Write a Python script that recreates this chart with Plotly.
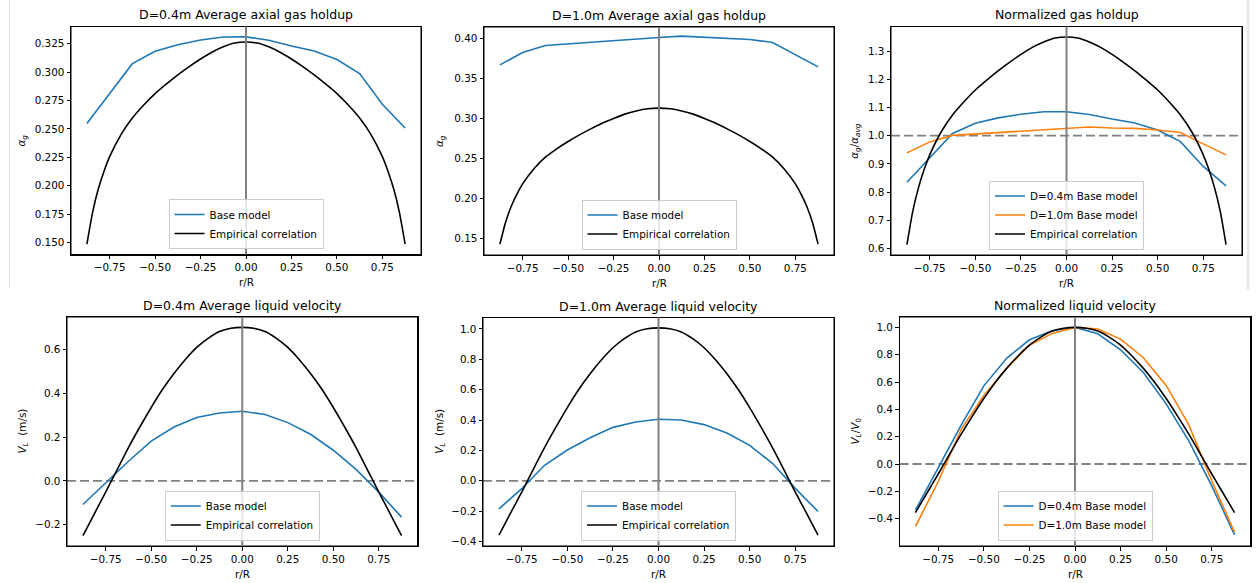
import plotly.graph_objects as go

W, H = 1258, 583
FONT = "DejaVu Sans"
BLUE = "#1f77b4"
ORANGE = "#ff7f0e"
BLACK = "#000000"
GRAY = "#808080"

# ---------------- data ----------------
r_base = [-0.875, -0.75, -0.625, -0.5, -0.375, -0.25, -0.125, 0.0,
          0.125, 0.25, 0.375, 0.5, 0.625, 0.75, 0.875]

r_emp = [-0.875, -0.84375, -0.8125, -0.78125, -0.75, -0.6875, -0.625, -0.5625,
         -0.5, -0.4375, -0.375, -0.3125, -0.25, -0.1875, -0.125, -0.0625, 0.0,
         0.0625, 0.125, 0.1875, 0.25, 0.3125, 0.375, 0.4375, 0.5, 0.5625,
         0.625, 0.6875, 0.75, 0.78125, 0.8125, 0.84375, 0.875]

# D=0.4m gas holdup
gas04_base = [0.2547, 0.2810, 0.3074, 0.3183, 0.3241, 0.3282, 0.3309, 0.3310,
              0.3280, 0.3230, 0.3186, 0.3110, 0.2986, 0.2717, 0.2508]
gas04_emp = [0.1485, 0.1765, 0.1970, 0.2125, 0.2255, 0.2450, 0.2595, 0.2710,
             0.2810, 0.2895, 0.2975, 0.3048, 0.3115, 0.3175, 0.3222, 0.3255, 0.3265,
             0.3255, 0.3222, 0.3175, 0.3115, 0.3048, 0.2975, 0.2895, 0.2810, 0.2710,
             0.2595, 0.2450, 0.2255, 0.2125, 0.1970, 0.1765, 0.1485]

# D=1.0m gas holdup
gas10_base = [0.3673, 0.3828, 0.3916, 0.3937, 0.3962, 0.3983, 0.4004, 0.4017,
              0.4033, 0.4020, 0.4013, 0.3992, 0.3954, 0.3800, 0.3648]
gas10_emp = [0.1425, 0.1700, 0.1900, 0.2052, 0.2180, 0.2370, 0.2515, 0.2620,
             0.2712, 0.2795, 0.2870, 0.2940, 0.3000, 0.3055, 0.3095, 0.3122, 0.3130,
             0.3122, 0.3095, 0.3055, 0.3000, 0.2940, 0.2870, 0.2795, 0.2712, 0.2620,
             0.2515, 0.2370, 0.2180, 0.2052, 0.1900, 0.1700, 0.1425]

# normalized gas holdup
ngas04_base = [0.835, 0.921, 1.008, 1.044, 1.063, 1.076, 1.085, 1.085,
               1.075, 1.059, 1.045, 1.020, 0.979, 0.891, 0.822]
ngas10_base = [0.939, 0.978, 1.001, 1.006, 1.013, 1.018, 1.023, 1.027,
               1.031, 1.027, 1.026, 1.020, 1.011, 0.971, 0.932]
ngas_emp = [0.614, 0.730, 0.814, 0.879, 0.932, 1.013, 1.073, 1.120,
            1.162, 1.197, 1.230, 1.260, 1.288, 1.313, 1.332, 1.346, 1.350,
            1.346, 1.332, 1.313, 1.288, 1.260, 1.230, 1.197, 1.162, 1.120,
            1.073, 1.013, 0.932, 0.879, 0.814, 0.730, 0.614]

# D=0.4m liquid velocity
vel04_base = [-0.1075, -0.008, 0.090, 0.182, 0.246, 0.289, 0.310, 0.318,
              0.303, 0.266, 0.213, 0.140, 0.053, -0.051, -0.165]
vel04_emp = [-0.249, -0.200, -0.150, -0.100, -0.051, 0.051, 0.152, 0.246,
             0.335, 0.418, 0.490, 0.554, 0.609, 0.650, 0.681, 0.696, 0.700,
             0.696, 0.681, 0.650, 0.609, 0.554, 0.490, 0.418, 0.335, 0.246,
             0.152, 0.051, -0.051, -0.100, -0.150, -0.200, -0.249]

# D=1.0m liquid velocity
vel10_base = [-0.185, -0.052, 0.102, 0.203, 0.283, 0.352, 0.387, 0.405,
              0.400, 0.370, 0.315, 0.233, 0.115, -0.050, -0.2025]
vel10_emp = [-0.358, -0.287, -0.215, -0.145, -0.074, 0.074, 0.219, 0.353,
             0.482, 0.601, 0.705, 0.797, 0.876, 0.936, 0.980, 1.001, 1.007,
             1.001, 0.980, 0.936, 0.876, 0.797, 0.705, 0.601, 0.482, 0.353,
             0.219, 0.074, -0.074, -0.145, -0.215, -0.287, -0.358]

# normalized liquid velocity
nvel04_base = [-0.338, -0.025, 0.283, 0.572, 0.774, 0.909, 0.975, 1.000,
               0.953, 0.836, 0.670, 0.440, 0.167, -0.160, -0.519]
nvel10_base = [-0.457, -0.128, 0.252, 0.501, 0.699, 0.869, 0.956, 1.000,
               0.988, 0.914, 0.778, 0.575, 0.284, -0.123, -0.500]
nvel_emp = [-0.356, -0.285, -0.214, -0.144, -0.073, 0.073, 0.217, 0.351,
            0.479, 0.597, 0.700, 0.791, 0.870, 0.929, 0.973, 0.994, 1.000,
            0.994, 0.973, 0.929, 0.870, 0.791, 0.700, 0.597, 0.479, 0.351,
            0.217, 0.073, -0.073, -0.144, -0.214, -0.285, -0.356]

# ticks
x_tickvals = [-0.75, -0.5, -0.25, 0.0, 0.25, 0.5, 0.75]
x_ticktext = ["\u22120.75", "\u22120.50", "\u22120.25", "0.00", "0.25", "0.50", "0.75"]
y1_tickvals = [0.150, 0.175, 0.200, 0.225, 0.250, 0.275, 0.300, 0.325]
y1_ticktext = ["0.150", "0.175", "0.200", "0.225", "0.250", "0.275", "0.300", "0.325"]
y2_tickvals = [0.15, 0.20, 0.25, 0.30, 0.35, 0.40]
y2_ticktext = ["0.15", "0.20", "0.25", "0.30", "0.35", "0.40"]
y3_tickvals = [0.6, 0.7, 0.8, 0.9, 1.0, 1.1, 1.2, 1.3]
y3_ticktext = ["0.6", "0.7", "0.8", "0.9", "1.0", "1.1", "1.2", "1.3"]
y4_tickvals = [-0.2, 0.0, 0.2, 0.4, 0.6]
y4_ticktext = ["\u22120.2", "0.0", "0.2", "0.4", "0.6"]
y5_tickvals = [-0.4, -0.2, 0.0, 0.2, 0.4, 0.6, 0.8, 1.0]
y5_ticktext = ["\u22120.4", "\u22120.2", "0.0", "0.2", "0.4", "0.6", "0.8", "1.0"]

titles = ["D=0.4m Average axial gas holdup", "D=1.0m Average axial gas holdup",
          "Normalized gas holdup", "D=0.4m Average liquid velocity",
          "D=1.0m Average liquid velocity", "Normalized liquid velocity"]
ytitles = ["<i>α</i><sub><i>g</i></sub>", "<i>α</i><sub><i>g</i></sub>",
           "<i>α</i><sub><i>g</i></sub>/<i>α</i><sub><i>avg</i></sub>",
           "<i>V</i><sub><i>L</i></sub>  (m/s)", "<i>V</i><sub><i>L</i></sub>  (m/s)",
           "<i>V</i><sub><i>L</i></sub>/<i>V</i><sub>0</sub>"]

# ---------------- layout geometry (pixels) ----------------
boxes = [  # left, right, top, bottom
    (71, 421, 26.5, 254.5),
    (484, 834, 27, 255),
    (891, 1242, 26.5, 255),
    (67, 417.5, 317, 546),
    (483, 834, 317.5, 546),
    (899.5, 1250.5, 317, 546),
]
yranges = [[0.1394, 0.3401], [0.1288, 0.4148], [0.577, 1.387],
           [-0.2965, 0.7475], [-0.4294, 1.0754], [-0.600, 1.076]]
yticks = [(y1_tickvals, y1_ticktext), (y2_tickvals, y2_ticktext), (y3_tickvals, y3_ticktext),
          (y4_tickvals, y4_ticktext), (y5_tickvals, y5_ticktext), (y5_tickvals, y5_ticktext)]
ytitle_x = [21, 440, 855, 22, 440, 855]
hlines = [None, None, 1.0, 0.0, 0.0, 0.0]

fig = go.Figure()


def add(i, x, y, color, name, show=True, smooth=False):
    sfx = "" if i == 1 else str(i)
    line = dict(color=color, width=1.6)
    if smooth:
        line.update(shape="spline", smoothing=0.6)
    fig.add_trace(go.Scatter(
        x=x, y=y, mode="lines", name=name, line=line, hoverinfo="skip",
        xaxis="x" + sfx, yaxis="y" + sfx,
        legend="legend" + sfx, showlegend=show))


add(1, r_base, gas04_base, BLUE, "Base model")
add(1, r_emp, gas04_emp, BLACK, "Empirical correlation", smooth=True)
add(2, r_base, gas10_base, BLUE, "Base model")
add(2, r_emp, gas10_emp, BLACK, "Empirical correlation", smooth=True)
add(3, r_base, ngas04_base, BLUE, "D=0.4m Base model")
add(3, r_base, ngas10_base, ORANGE, "D=1.0m Base model")
add(3, r_emp, ngas_emp, BLACK, "Empirical correlation", smooth=True)
add(4, r_base, vel04_base, BLUE, "Base model")
add(4, r_emp, vel04_emp, BLACK, "Empirical correlation", smooth=True)
add(5, r_base, vel10_base, BLUE, "Base model")
add(5, r_emp, vel10_emp, BLACK, "Empirical correlation", smooth=True)
add(6, r_base, nvel04_base, BLUE, "D=0.4m Base model")
add(6, r_base, nvel10_base, ORANGE, "D=1.0m Base model")
add(6, r_emp, nvel_emp, BLACK, "Empirical correlation", show=False, smooth=True)

layout = dict(width=W, height=H, margin=dict(l=0, r=0, t=0, b=0),
              paper_bgcolor="white", plot_bgcolor="white",
              font=dict(family=FONT, size=10.4, color="#000"))
annotations = []
shapes = []
for k, (l, r, t, b) in enumerate(boxes):
    i = k + 1
    sfx = "" if i == 1 else str(i)
    axis_common = dict(showline=True, mirror=True, linecolor="#000000", linewidth=1,
                       ticks="outside", ticklen=3.5, tickwidth=1, tickcolor="#000000",
                       showgrid=False, zeroline=False,
                       tickfont=dict(family=FONT, size=10.4, color="#000"))
    layout["xaxis" + sfx] = dict(domain=[l / W, r / W], anchor="y" + sfx,
                                 range=[-0.9625, 0.9625], tickvals=x_tickvals,
                                 ticktext=x_ticktext, **axis_common)
    tv, tt = yticks[k]
    layout["yaxis" + sfx] = dict(domain=[1 - b / H, 1 - t / H], anchor="x" + sfx,
                                 range=yranges[k], tickvals=tv, ticktext=tt, **axis_common)
    layout["legend" + sfx] = dict(x=(l + r) / 2 / W, xanchor="center",
                                  y=1 - (b - 5.5) / H, yanchor="bottom",
                                  bgcolor="rgba(255,255,255,0.8)", bordercolor="#cccccc",
                                  borderwidth=1, font=dict(family=FONT, size=10.4, color="#000"),
                                  itemwidth=30, tracegroupgap=0)
    # subplot title
    annotations.append(dict(text=titles[k], x=(l + r) / 2 / W, y=1 - t / H,
                            xref="paper", yref="paper", xanchor="center", yanchor="bottom",
                            yshift=2, showarrow=False,
                            font=dict(family=FONT, size=12.5, color="#000")))
    # x title
    annotations.append(dict(text="r/R", x=(l + r) / 2 / W, y=1 - (b + 27.5) / H,
                            xref="paper", yref="paper", xanchor="center", yanchor="middle",
                            showarrow=False, font=dict(family=FONT, size=10.4, color="#000")))
    # y title
    annotations.append(dict(text=ytitles[k], x=ytitle_x[k] / W, y=1 - (t + b) / 2 / H,
                            xref="paper", yref="paper", xanchor="center", yanchor="middle",
                            textangle=-90, showarrow=False,
                            font=dict(family=FONT, size=10.4, color="#000")))
    # axes frame
    shapes.append(dict(type="rect", xref="x" + sfx + " domain", yref="y" + sfx + " domain",
                       x0=0, x1=1, y0=0, y1=1, layer="above",
                       line=dict(color="#000000", width=1)))
    # vertical center line
    shapes.append(dict(type="line", xref="x" + sfx, yref="y" + sfx + " domain",
                       x0=0, x1=0, y0=0, y1=1, layer="above",
                       line=dict(color=GRAY, width=2)))
    if hlines[k] is not None:
        shapes.append(dict(type="line", xref="x" + sfx + " domain", yref="y" + sfx,
                           x0=0, x1=1, y0=hlines[k], y1=hlines[k], layer="below",
                           line=dict(color=GRAY, width=1.8, dash="9px,4px")))

# faint screenshot edges from the reference composite
shapes.append(dict(type="line", xref="paper", yref="paper", x0=9.5 / W, x1=9.5 / W,
                   y0=1 - 288 / H, y1=1, line=dict(color="#e0e0e0", width=1)))
shapes.append(dict(type="line", xref="paper", yref="paper", x0=1248 / W, x1=1248 / W,
                   y0=1 - 290 / H, y1=1, line=dict(color="#d0d0d0", width=1)))

layout["annotations"] = annotations
layout["shapes"] = shapes
fig.update_layout(**layout)
fig.write_html("out.html",
               config={"displayModeBar": False, "staticPlot": True},
               post_script="document.body.style.margin='0';"
                           "document.body.style.padding='0';"
                           "document.body.style.overflow='hidden';")
